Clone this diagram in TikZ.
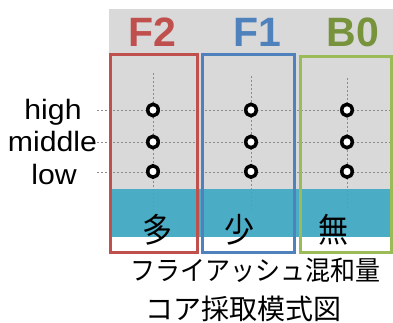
\documentclass[tikz,border=0pt]{standalone}
\usepackage{fontspec}
\usetikzlibrary{shapes.geometric}
\setmainfont{Liberation Sans}
\newfontfamily\cjk{Noto Sans CJK JP}
\definecolor{bggray}{HTML}{D9D9D9}
\definecolor{tealband}{HTML}{4BACC6}
\definecolor{cred}{HTML}{C0504D}
\definecolor{cblue}{HTML}{4F81BD}
\definecolor{cgreen}{HTML}{9BBB59}
\definecolor{cgreentxt}{HTML}{77933C}
\definecolor{guide}{HTML}{8C8C8C}
\begin{document}
\begin{tikzpicture}[x=1pt,y=-1pt,
  guideline/.style={draw=guide,line width=0.7pt,dash pattern=on 2pt off 2pt},
  corebox/.style={line width=3pt},
  sample/.style={draw=black,fill=white,line width=3.5pt,ellipse,minimum width=10.5pt,minimum height=11.5pt,inner sep=0pt},
  title/.style={font=\fontsize{41}{41}\selectfont\bfseries,anchor=base,inner sep=0pt},
  level/.style={font=\fontsize{28}{28}\selectfont,anchor=base,inner sep=0pt,xscale=1.08},
  amount/.style={font=\cjk\fontsize{30}{30}\selectfont,inner sep=0pt,yscale=1.12},
  caption/.style={font=\cjk\fontsize{25}{25}\selectfont,inner sep=0pt}
]
\useasboundingbox (0,0) rectangle (393,323);
% backgrounds
\fill[bggray] (109,9) rectangle (393,189);
\fill[tealband] (109,189) rectangle (393,237);
% guide lines
\foreach \yy in {110,142,172} \draw[guideline] (97,\yy) -- (393,\yy);
\foreach \xx/\ys in {153/73,251/76,347/78} \draw[guideline] (\xx,\ys) -- (\xx,210);
% boxes
\draw[corebox,cred] (110.5,55) rectangle (197.5,252);
\draw[corebox,cblue] (202.5,55) rectangle (294.5,252);
\draw[corebox,cgreen] (300.5,56.5) rectangle (391,252);
% titles
\node[title,text=cred] (tF2) at (152,46.5) {F2};
\node[title,text=cblue] (tF1) at (257,46.5) {F1};
\node[title,text=cgreentxt] (tB0) at (353,46.5) {B0};
% levels
\node[level] (lhigh) at (53,120) {high};
\node[level] (lmid) at (52.5,152) {middle};
\node[level] (llow) at (54,185) {low};
% samples
\foreach \xx/\nm in {153/a,251/b,347/c}{
  \node[sample] (\nm h) at (\xx,110) {};
  \node[sample] (\nm m) at (\xx,142) {};
  \node[sample] (\nm l) at (\xx,171.5) {};
}
% amounts
\node[amount] (many) at (157,230) {多};
\node[amount] (few) at (239,230) {少};
\node[amount] (none) at (333,230) {無};
% captions
\node[caption,yscale=1.08] (cap1) at (255,270) {フライアッシュ混和量};
\node[caption,font=\cjk\fontsize{28}{28}\selectfont] (cap2) at (243.5,309) {コア採取模式図};
\end{tikzpicture}
\end{document}
